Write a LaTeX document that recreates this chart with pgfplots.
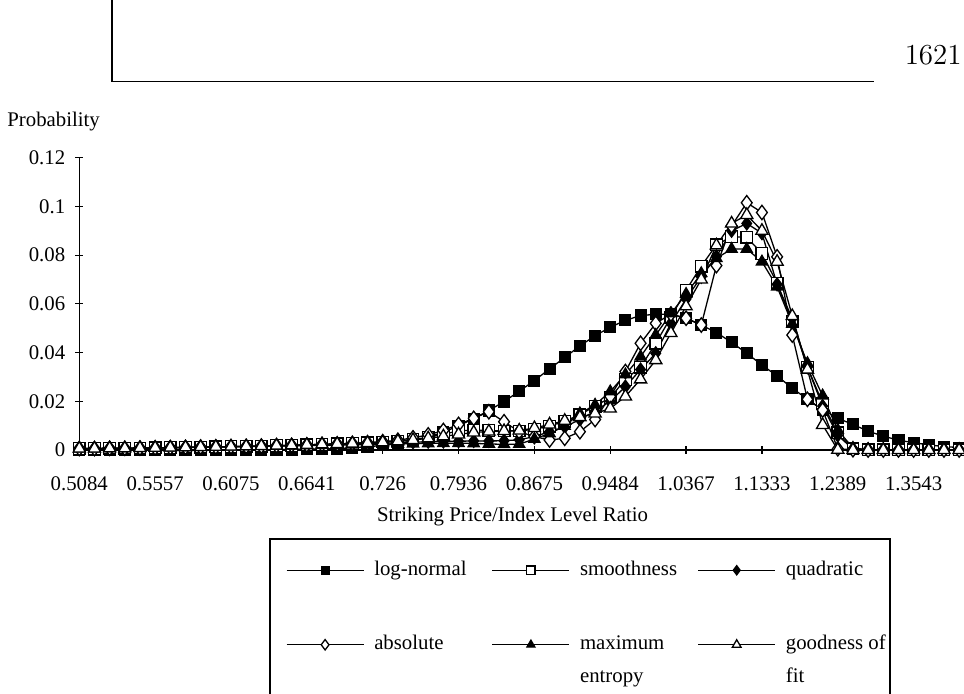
\documentclass[border=0pt]{standalone}
\usepackage{fontspec}
\usepackage{pgfplots}
\usepackage{pgfplotstable}
\pgfplotsset{compat=1.18}
\newfontfamily\tnr{Liberation Serif}
\newcommand\tf{\tnr\fontsize{10.4}{12.5}\selectfont}

\pgfplotstableread{
i  ln      sm      qu      ab      me      gf
0  0.0000  0.0006  0.0006  0.0006  0.0005  0.0006
1  0.0000  0.0006  0.0006  0.0006  0.0005  0.0006
2  0.0000  0.0007  0.0007  0.0007  0.0006  0.0007
3  0.0000  0.0007  0.0007  0.0007  0.0006  0.0007
4  0.0000  0.0008  0.0008  0.0008  0.0007  0.0008
5  0.0000  0.0009  0.0009  0.0009  0.0008  0.0009
6  0.0000  0.0010  0.0010  0.0010  0.0009  0.0010
7  0.0000  0.0011  0.0011  0.0011  0.0010  0.0011
8  0.0000  0.0012  0.0012  0.0012  0.0011  0.0012
9  0.0000  0.0013  0.0013  0.0013  0.0012  0.0013
10 0.0000  0.0014  0.0014  0.0014  0.0013  0.0014
11 0.0001  0.0015  0.0015  0.0015  0.0014  0.0015
12 0.0001  0.0016  0.0016  0.0016  0.0015  0.0016
13 0.0001  0.0018  0.0017  0.0018  0.0016  0.0018
14 0.0002  0.0019  0.0018  0.0019  0.0017  0.0019
15 0.0003  0.0021  0.0019  0.0021  0.0018  0.0021
16 0.0004  0.0023  0.0021  0.0023  0.0019  0.0023
17 0.0006  0.0025  0.0022  0.0025  0.0020  0.0025
18 0.0009  0.0027  0.0024  0.0027  0.0021  0.0027
19 0.0013  0.0030  0.0026  0.0030  0.0022  0.0029
20 0.0019  0.0033  0.0028  0.0034  0.0024  0.0032
21 0.0027  0.0037  0.0030  0.0040  0.0025  0.0036
22 0.0038  0.0043  0.0032  0.0050  0.0026  0.0041
23 0.0053  0.0052  0.0034  0.0062  0.0027  0.0048
24 0.0073  0.0065  0.0035  0.0080  0.0028  0.0056
25 0.0099  0.0078  0.0036  0.0105  0.0028  0.0064
26 0.0129  0.0082  0.0037  0.0130  0.0027  0.0072
27 0.0162  0.0080  0.0037  0.0157  0.0025  0.0076
28 0.0199  0.0078  0.0038  0.0116  0.0023  0.0078
29 0.0241  0.0078  0.0042  0.0075  0.0024  0.0080
30 0.0285  0.0085  0.0055  0.0055  0.0045  0.0090
31 0.0333  0.0098  0.0075  0.0041  0.0068  0.0105
32 0.0380  0.0118  0.0095  0.0048  0.0098  0.0120
33 0.0427  0.0145  0.0125  0.0075  0.0150  0.0135
34 0.0469  0.0180  0.0160  0.0125  0.0185  0.0150
35 0.0504  0.0215  0.0200  0.0220  0.0240  0.0170
36 0.0532  0.0290  0.0260  0.0322  0.0310  0.0220
37 0.0552  0.0340  0.0330  0.0438  0.0383  0.0290
38 0.0557  0.0438  0.0397  0.0520  0.0472  0.0369
39 0.0557  0.0545  0.0520  0.0558  0.0560  0.0480
40 0.0541  0.0656  0.0620  0.0541  0.0640  0.0590
41 0.0513  0.0755  0.0711  0.0513  0.0725  0.0700
42 0.0482  0.0842  0.0794  0.0757  0.0787  0.0840
43 0.0442  0.0876  0.0900  0.0920  0.0825  0.0930
44 0.0397  0.0873  0.0930  0.1015  0.0825  0.0965
45 0.0349  0.0807  0.0890  0.0975  0.0773  0.0900
46 0.0304  0.0684  0.0680  0.0793  0.0670  0.0773
47 0.0254  0.0527  0.0540  0.0472  0.0517  0.0550
48 0.0208  0.0340  0.0340  0.0208  0.0356  0.0330
49 0.0166  0.0192  0.0180  0.0164  0.0223  0.0103
50 0.0130  0.0070  0.0060  0.0005  0.0082  0.0001
51 0.0105  0.0005  0.0004  0.0001  0.0008  0.0000
52 0.0077  0.0001  0.0001  0.0000  0.0001  0.0000
53 0.0057  0.0001  0.0001  0.0000  0.0001  0.0000
54 0.0040  0.0001  0.0001  0.0000  0.0001  0.0000
55 0.0030  0.0001  0.0001  0.0000  0.0001  0.0000
56 0.0021  0.0001  0.0001  0.0000  0.0001  0.0000
57 0.0014  0.0001  0.0001  0.0000  0.0001  0.0000
58 0.0010  0.0001  0.0001  0.0000  0.0001  0.0000
}\data

\begin{document}
\begin{tikzpicture}
\useasboundingbox (0pt,0pt) rectangle (482pt,347pt);
% page header
\draw[line width=0.7pt] (56pt,347pt) -- (56pt,306.15pt) -- (437pt,306.15pt);
\node[anchor=base east, inner sep=0pt, font=\fontsize{14.5}{17}\selectfont] at (481pt,314.5pt) {1621};
% y label
\node[anchor=base west, inner sep=0pt, font=\tf] at (3.5pt,283.5pt) {Probability};
% x label
\node[anchor=base, inner sep=0pt, font=\tf] at (256.25pt,86pt) {Striking Price/Index Level Ratio};

\begin{axis}[
  at={(39.65pt,122pt)}, anchor=south west,
  scale only axis, width=442.35pt, height=146.15pt,
  xmin=0, xmax=58.32, ymin=0, ymax=0.12,
  axis lines*=left,
  clip=false,
  xtick={0,5,...,55},
  xticklabels={0.5084,0.5557,0.6075,0.6641,0.726,0.7936,0.8675,0.9484,1.0367,1.1333,1.2389,1.3543},
  ytick={0,0.02,0.04,0.06,0.08,0.1,0.12},
  yticklabels={0,0.02,0.04,0.06,0.08,0.1,0.12},
  tick align=center, major tick length=4pt,
  tick style={black, line width=0.6pt},
  axis line style={black, line width=0.7pt},
  ticklabel style={font=\tf},
  xticklabel style={anchor=base, yshift=-18.5pt},
  yticklabel style={anchor=east, xshift=-1.5pt},
  every axis plot/.append style={black, line width=0.65pt},
  legend columns=3,
  legend style={draw=none, fill=none, at={(0.2336,-0.368)}, anchor=north west,
    inner sep=0pt, outer sep=0pt, column sep=5pt, row sep=27pt,
    nodes={inner sep=0pt, font=\tf}, cells={anchor=base west}},
  legend image code/.code={\draw[mark repeat=2, mark phase=2, #1] plot coordinates {(0pt,2.4pt) (19.25pt,2.4pt) (38.5pt,2.4pt)};},
  legend image post style={every mark/.append style={scale=0.72}},
]
\addplot[mark=square*, mark size=2.7pt, mark options={solid, fill=black}] table[x=i, y=ln] {\data};
\addlegendentry{\parbox[t]{53.75pt}{\strut log-normal}}
\addplot[mark=square*, mark size=2.9pt, mark options={solid, fill=white}] table[x=i, y=sm] {\data};
\addlegendentry{\parbox[t]{53.75pt}{\strut smoothness}}
\addplot[mark=diamond*, mark size=3.2pt, mark options={solid, fill=black}] table[x=i, y=qu] {\data};
\addlegendentry{\parbox[t]{53.75pt}{\strut quadratic}}
\addplot[mark=diamond*, mark size=3.6pt, mark options={solid, fill=white}] table[x=i, y=ab] {\data};
\addlegendentry{\parbox[t]{53.75pt}{\strut absolute}}
\addplot[mark=triangle*, mark size=3.2pt, mark options={solid, fill=black}] table[x=i, y=me] {\data};
\addlegendentry{\parbox[t]{53.75pt}{\baselineskip=16.5pt\strut maximum\newline entropy\strut}}
\addplot[mark=triangle*, mark size=3.5pt, mark options={solid, fill=white}] table[x=i, y=gf] {\data};
\addlegendentry{\parbox[t]{53.75pt}{\baselineskip=16.5pt\strut goodness of\newline fit\strut}}
\end{axis}
% legend frame (runs past the bottom edge)
\draw[line width=0.6pt] (135pt,-5pt) -- (135pt,77.5pt) -- (445pt,77.5pt) -- (445pt,-5pt);
\end{tikzpicture}
\end{document}
